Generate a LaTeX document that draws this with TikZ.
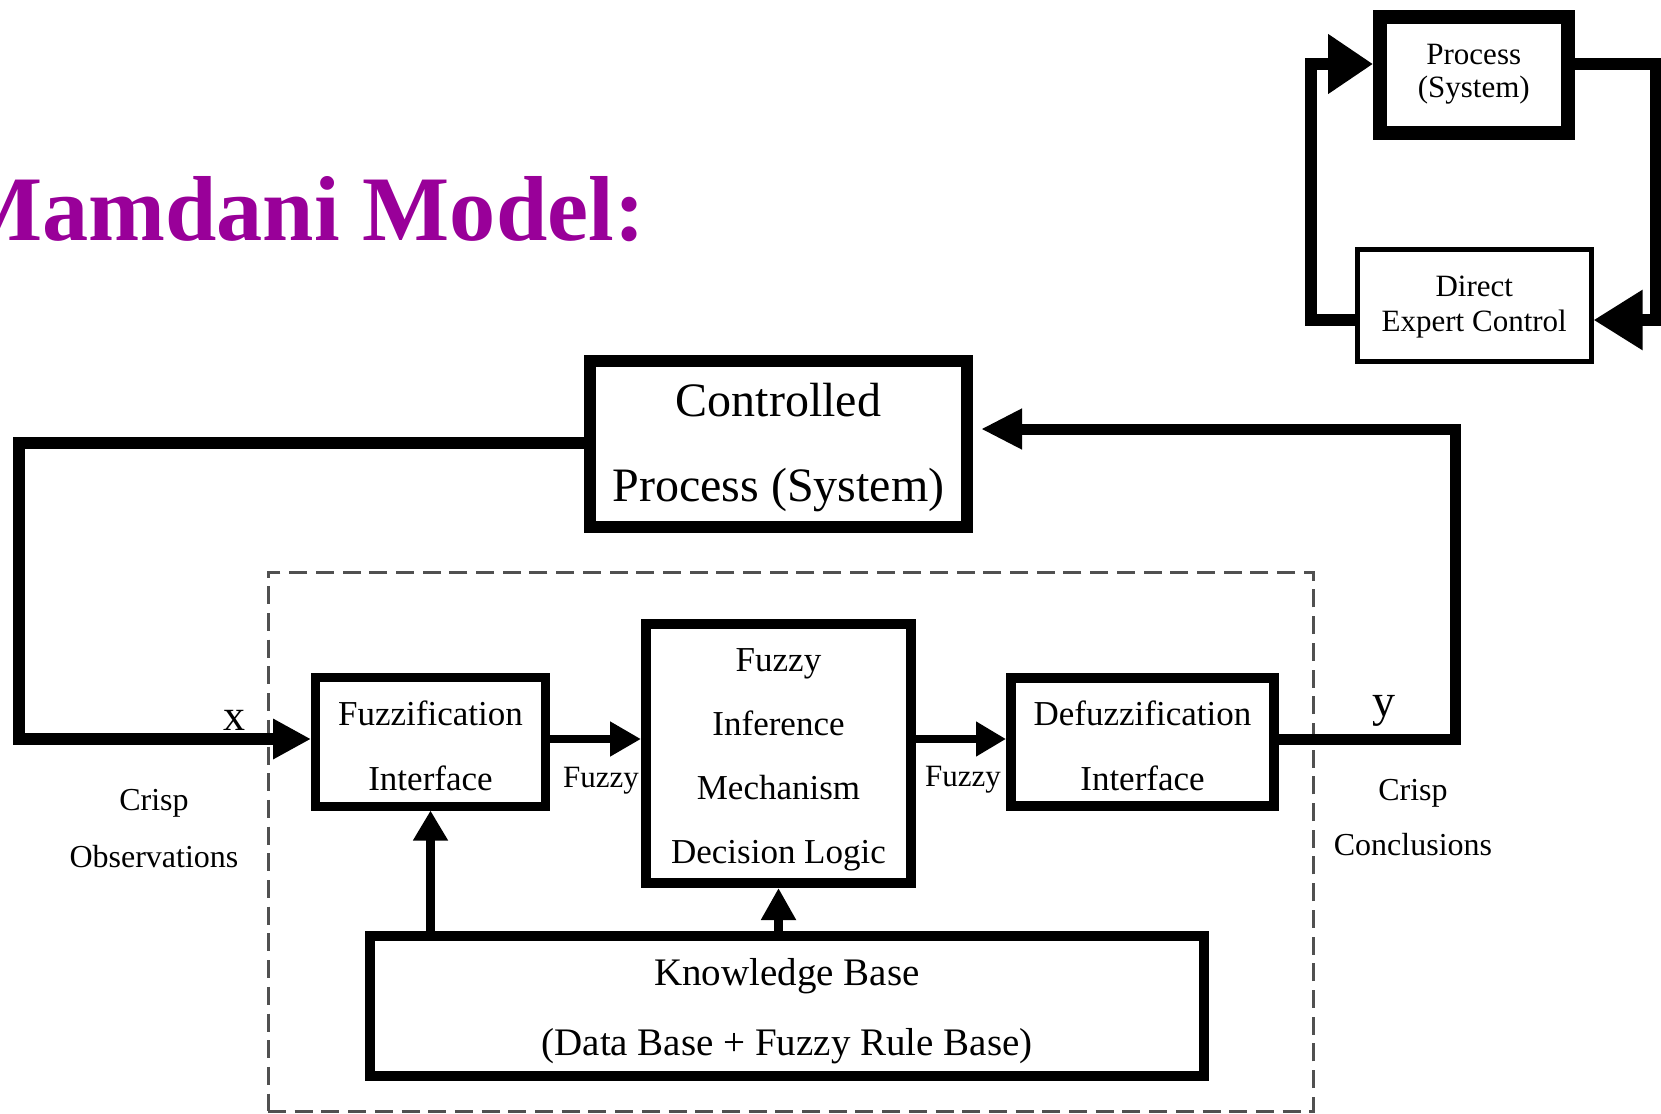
\documentclass[tikz,border=0pt]{standalone}
\usepackage{fontspec}
\setmainfont{Liberation Serif}
\usetikzlibrary{arrows.meta,calc}
\definecolor{titlepurple}{RGB}{153,0,153}
\definecolor{dashgray}{RGB}{80,80,80}
\newcommand{\fsz}[2]{\fontsize{#1pt}{#2pt}\selectfont}
\begin{document}
\begin{tikzpicture}[x=1pt,y=-1pt,
  blk/.style={draw,rectangle,inner sep=0pt,line join=miter},
  conn/.style={draw,line join=miter,line cap=butt},
  lbl/.style={inner sep=0pt,align=center}]
\useasboundingbox[fill=white] (0,0) rectangle (1661,1113);

% title
\node[lbl,anchor=base east,text=titlepurple,font=\bfseries\fsz{92.3}{100}] (title) at (645,240) {Mamdani Model:};

% small loop, top right
\node[blk,line width=14pt,minimum width=187.5pt,minimum height=115.5pt] (proc) at (1473.75,75.25) {};
\node[lbl,font=\fsz{31}{33}] (proc-t) at ([yshift=1pt]proc.center) {Process\\(System)};
\node[blk,line width=5pt,minimum width=233.5pt,minimum height=112pt] (dec) at (1474.25,305) {};
\node[lbl,font=\fsz{31}{35}] (dec-t) at ([yshift=-2pt]dec.center) {Direct\\Expert Control};
\coordinate (tl) at (1311,64);
\coordinate (bl) at (1311,320);
\coordinate (tr) at (1656,64);
\coordinate (br) at (1656,320);
\draw[conn,line width=12pt,-{Triangle[length=45pt,width=57pt]}] (bl -| dec.west) -- (bl) -- (tl) -- (tl -| proc.west);
\draw[conn,line width=12pt,-{Triangle[length=49pt,width=57pt]}] (tr -| proc.east) -- (tr) -- (br) -- (br -| dec.east);

% main diagram
\node[draw=dashgray,line width=3pt,dash pattern=on 18pt off 8.7pt,minimum width=1045pt,minimum height=539pt,inner sep=0pt] (fls) at (790.5,841.5) {};
\node[blk,line width=12pt,minimum width=377pt,minimum height=166.5pt] (ctrl) at (778.5,443.75) {};
\node[lbl,font=\fsz{48}{85}] (ctrl-t) at ([yshift=-4pt]ctrl.center) {Controlled\\Process (System)};
\node[blk,line width=9pt,minimum width=230pt,minimum height=129pt] (fuzz) at (430.5,741.5) {};
\node[lbl,font=\fsz{35}{65}] (fuzz-t) at ([yshift=-4pt]fuzz.center) {Fuzzification\\Interface};
\node[blk,line width=10pt,minimum width=265pt,minimum height=259.5pt] (fim) at (778.5,753.25) {};
\node[lbl,font=\fsz{35}{64}] (fim-t) at ([yshift=-7pt]fim.center) {Fuzzy\\Inference\\Mechanism\\Decision Logic};
\node[blk,line width=10pt,minimum width=263pt,minimum height=128pt] (defz) at (1142.5,742) {};
\node[lbl,font=\fsz{35}{65}] (defz-t) at ([yshift=-4pt]defz.center) {Defuzzification\\Interface};
\node[blk,line width=10pt,minimum width=834pt,minimum height=140pt] (kb) at (787,1006) {};
\node[lbl,font=\fsz{39}{70}] (kb-t) at ([yshift=-5pt]kb.center) {Knowledge Base\\(Data Base + Fuzzy Rule Base)};

\coordinate (row) at (0,739);
\coordinate (fb1) at (19,443);
\coordinate (fb2) at (19,739);
\draw[conn,line width=12pt,-{Triangle[length=38pt,width=38pt]}] (ctrl.west |- fb1) -- (fb1) -- (fb2) -- (fb2 -| fuzz.west);
\draw[conn,line width=8pt,-{Triangle[length=31pt,width=33pt]}] (fuzz.east |- row) -- (fim.west |- row);
\draw[conn,line width=8pt,-{Triangle[length=30pt,width=33pt]}] (fim.east |- row) -- (defz.west |- row);
\coordinate (o1) at (1455,739);
\coordinate (o2) at (1455,429);
\draw[conn,line width=11pt,shorten >=8pt,-{Triangle[length=41pt,width=38pt]}] (defz.east |- o1) -- (o1) -- (o2) -- (o2 -| ctrl.east);
\draw[conn,line width=9pt,-{Triangle[length=30pt,width=33pt]}] (kb.north -| fuzz.south) -- (fuzz.south);
\draw[conn,line width=9pt,-{Triangle[length=32pt,width=33pt]}] (kb.north -| fim.south) -- (fim.south);

% labels
\node[lbl,anchor=base,font=\fsz{44}{44}] (xl) at (234,730) {x};
\node[lbl,anchor=base,font=\fsz{46}{46}] (yl) at (1384,716) {y};
\node[lbl,font=\fsz{31}{31}] (fz1) at (601,781) {Fuzzy};
\node[lbl,font=\fsz{31}{31}] (fz2) at (963,780) {Fuzzy};
\node[lbl,font=\fsz{32}{57}] (cobs) at (154,829) {Crisp\\Observations};
\node[lbl,font=\fsz{32}{55}] (ccon) at (1413,817.5) {Crisp\\Conclusions};
\end{tikzpicture}
\end{document}
